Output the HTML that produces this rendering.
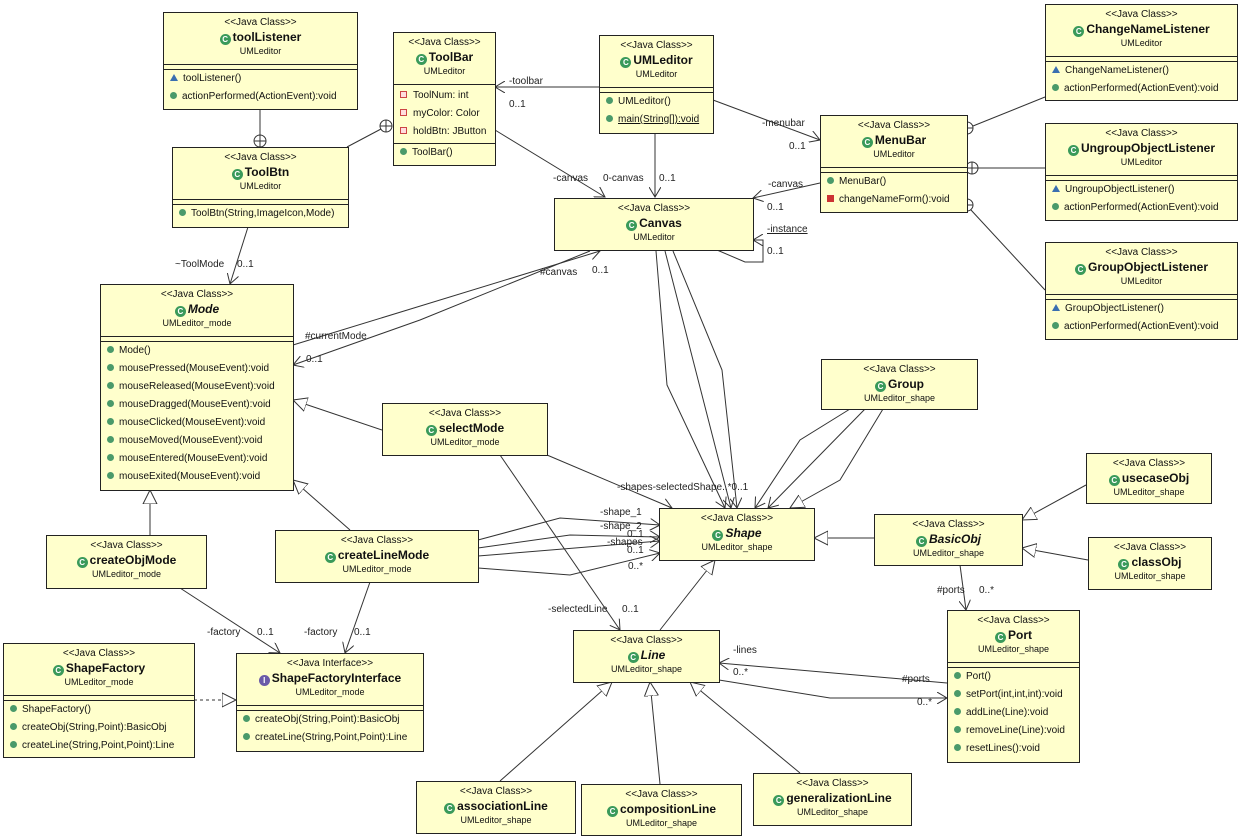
<!DOCTYPE html>
<html><head><meta charset="utf-8"><style>
body{margin:0;width:1242px;height:839px;background:#fff;position:relative;overflow:hidden;font-family:"Liberation Sans",sans-serif;}
.b{position:absolute;background:#ffffcc;border:1px solid #222;box-sizing:border-box;color:#111;}
.h{height:51px;text-align:center;border-bottom:1px solid #222;}
.st{font-size:10px;padding-top:4px;line-height:12px;}
.nm{font-size:12px;font-weight:bold;line-height:16px;}
.nm i{font-style:italic}
.pk{font-size:9px;line-height:13px;}
.g{display:inline-block;width:11px;height:11px;border-radius:50%;background:#3a9a5a;color:#fff;font-size:8px;line-height:11px;text-align:center;vertical-align:-1px;margin-right:2px;}
.sec{border-bottom:1px solid #222;height:4px;}
.sec2{border-bottom:1px solid #222;}
.r{font-size:10px;height:18px;line-height:18px;padding-left:6px;white-space:nowrap;}
.d{display:inline-block;width:7px;height:7px;border-radius:50%;background:#4a9a6a;margin-right:5px;vertical-align:0;}
.t{display:inline-block;width:0;height:0;border-left:4px solid transparent;border-right:4px solid transparent;border-bottom:7px solid #3a6fb0;margin-right:5px;}
.p{display:inline-block;width:5px;height:5px;border:1px solid #c44;background:#fdd;margin-right:6px;}
.sq{display:inline-block;width:7px;height:7px;background:#c33;margin-right:5px;}
.l{position:absolute;font-size:10px;color:#222;white-space:nowrap;}
svg{position:absolute;left:0;top:0;}
</style></head><body>
<svg width="1242" height="839" fill="none" stroke="#333" stroke-width="1">
<defs>
<marker id="a" markerWidth="12" markerHeight="12" refX="10" refY="6" orient="auto" markerUnits="userSpaceOnUse"><path d="M0,0 L10,6 L0,12" fill="none" stroke="#333"/></marker>
<marker id="tr" markerWidth="16" markerHeight="16" refX="14" refY="8" orient="auto" markerUnits="userSpaceOnUse"><path d="M0,1 L14,8 L0,15 Z" fill="#fff" stroke="#333"/></marker>
</defs>
<g>
<line x1="260" y1="110" x2="260" y2="135"/><circle cx="260" cy="141" r="6"/><path d="M254,141h12M260,135v12"/>
<line x1="347" y1="147" x2="381" y2="129"/><circle cx="386" cy="126" r="6"/><path d="M380,126h12M386,120v12"/>
<line x1="599" y1="87" x2="495" y2="87" marker-end="url(#a)"/>
<line x1="713" y1="100" x2="820" y2="140" marker-end="url(#a)"/>
<line x1="655" y1="133" x2="655" y2="197" marker-end="url(#a)"/>
<line x1="495" y1="130" x2="605" y2="197" marker-end="url(#a)"/>
<line x1="820" y1="183" x2="753" y2="198" marker-end="url(#a)"/>
<polyline points="717,250 745,262 763,262 763,240 753,240" marker-end="url(#a)"/>
<line x1="1045" y1="97" x2="973" y2="126"/><circle cx="967" cy="128" r="6"/><path d="M961,128h12M967,122v12"/>
<line x1="1045" y1="168" x2="978" y2="168"/><circle cx="972" cy="168" r="6"/><path d="M966,168h12M972,162v12"/>
<line x1="1045" y1="290" x2="971" y2="210"/><circle cx="967" cy="205" r="6"/><path d="M961,205h12M967,199v12"/>
<line x1="248" y1="227" x2="230" y2="284" marker-end="url(#a)"/>
<line x1="293" y1="345" x2="600" y2="251" marker-end="url(#a)"/>
<polyline points="590,251 420,320 293,365" marker-end="url(#a)"/>
<polyline points="656,251 667,385 725,508" marker-end="url(#a)"/>
<line x1="665" y1="251" x2="731" y2="508" marker-end="url(#a)"/>
<polyline points="673,251 722,370 737,508" marker-end="url(#a)"/>
<polyline points="850,409 800,440 755,508" marker-end="url(#a)"/>
<line x1="865" y1="409" x2="768" y2="508" marker-end="url(#a)"/>
<polyline points="883,409 840,480 790,508" marker-end="url(#tr)"/>
<line x1="382" y1="430" x2="293" y2="400" marker-end="url(#tr)"/>
<line x1="547" y1="455" x2="672" y2="508" marker-end="url(#a)"/>
<line x1="500" y1="455" x2="620" y2="630" marker-end="url(#a)"/>
<line x1="150" y1="535" x2="150" y2="490" marker-end="url(#tr)"/>
<line x1="350" y1="530" x2="293" y2="480" marker-end="url(#tr)"/>
<polyline points="478,540 560,518 660,525" marker-end="url(#a)"/>
<polyline points="478,548 570,535 660,537" marker-end="url(#a)"/>
<line x1="478" y1="556" x2="660" y2="541" marker-end="url(#a)"/>
<polyline points="478,568 570,575 660,553" marker-end="url(#a)"/>
<line x1="180" y1="588" x2="280" y2="653" marker-end="url(#a)"/>
<line x1="370" y1="582" x2="345" y2="653" marker-end="url(#a)"/>
<line x1="194" y1="700" x2="236" y2="700" stroke-dasharray="3,3" marker-end="url(#tr)"/>
<line x1="874" y1="538" x2="814" y2="538" marker-end="url(#tr)"/>
<line x1="1086" y1="485" x2="1022" y2="520" marker-end="url(#tr)"/>
<line x1="1088" y1="560" x2="1022" y2="548" marker-end="url(#tr)"/>
<line x1="960" y1="565" x2="966" y2="610" marker-end="url(#a)"/>
<line x1="660" y1="630" x2="715" y2="560" marker-end="url(#tr)"/>
<line x1="947" y1="683" x2="719" y2="663" marker-end="url(#a)"/>
<polyline points="719,680 830,698 947,698" marker-end="url(#a)"/>
<line x1="500" y1="781" x2="612" y2="682" marker-end="url(#tr)"/>
<line x1="660" y1="784" x2="650" y2="682" marker-end="url(#tr)"/>
<line x1="800" y1="773" x2="690" y2="682" marker-end="url(#tr)"/>
</g></svg>

<div class="b" style="left:163px;top:12px;width:195px;height:98px"><div class="h"><div class="st">&lt;&lt;Java Class&gt;&gt;</div><div class="nm"><span class="g">C</span>toolListener</div><div class="pk">UMLeditor</div></div><div class="sec"></div><div class="r"><span class="t"></span>toolListener()</div><div class="r"><span class="d"></span>actionPerformed(ActionEvent):void</div></div>

<div class="b" style="left:393px;top:32px;width:103px;height:134px"><div class="h"><div class="st">&lt;&lt;Java Class&gt;&gt;</div><div class="nm"><span class="g">C</span>ToolBar</div><div class="pk">UMLeditor</div></div><div class="sec2" style="padding:2px 0"><div class="r"><span class="p"></span>ToolNum: int</div><div class="r"><span class="p"></span>myColor: Color</div><div class="r"><span class="p"></span>holdBtn: JButton</div></div><div class="r"><span class="d"></span>ToolBar()</div></div>

<div class="b" style="left:599px;top:35px;width:115px;height:99px"><div class="h"><div class="st">&lt;&lt;Java Class&gt;&gt;</div><div class="nm"><span class="g">C</span>UMLeditor</div><div class="pk">UMLeditor</div></div><div class="sec"></div><div class="r"><span class="d"></span>UMLeditor()</div><div class="r"><span class="d"></span><u>main(String[]):void</u></div></div>

<div class="b" style="left:1045px;top:4px;width:193px;height:97px"><div class="h"><div class="st">&lt;&lt;Java Class&gt;&gt;</div><div class="nm"><span class="g">C</span>ChangeNameListener</div><div class="pk">UMLeditor</div></div><div class="sec"></div><div class="r"><span class="t"></span>ChangeNameListener()</div><div class="r"><span class="d"></span>actionPerformed(ActionEvent):void</div></div>

<div class="b" style="left:820px;top:115px;width:148px;height:98px"><div class="h"><div class="st">&lt;&lt;Java Class&gt;&gt;</div><div class="nm"><span class="g">C</span>MenuBar</div><div class="pk">UMLeditor</div></div><div class="sec"></div><div class="r"><span class="d"></span>MenuBar()</div><div class="r"><span class="sq"></span>changeNameForm():void</div></div>

<div class="b" style="left:1045px;top:123px;width:193px;height:98px"><div class="h"><div class="st">&lt;&lt;Java Class&gt;&gt;</div><div class="nm"><span class="g">C</span>UngroupObjectListener</div><div class="pk">UMLeditor</div></div><div class="sec"></div><div class="r"><span class="t"></span>UngroupObjectListener()</div><div class="r"><span class="d"></span>actionPerformed(ActionEvent):void</div></div>

<div class="b" style="left:1045px;top:242px;width:193px;height:98px"><div class="h"><div class="st">&lt;&lt;Java Class&gt;&gt;</div><div class="nm"><span class="g">C</span>GroupObjectListener</div><div class="pk">UMLeditor</div></div><div class="sec"></div><div class="r"><span class="t"></span>GroupObjectListener()</div><div class="r"><span class="d"></span>actionPerformed(ActionEvent):void</div></div>

<div class="b" style="left:172px;top:147px;width:177px;height:81px"><div class="h"><div class="st">&lt;&lt;Java Class&gt;&gt;</div><div class="nm"><span class="g">C</span>ToolBtn</div><div class="pk">UMLeditor</div></div><div class="sec"></div><div class="r"><span class="d"></span>ToolBtn(String,ImageIcon,Mode)</div></div>

<div class="b" style="left:554px;top:198px;width:200px;height:53px"><div class="st" style="text-align:center">&lt;&lt;Java Class&gt;&gt;</div><div class="nm" style="text-align:center"><span class="g">C</span>Canvas</div><div class="pk" style="text-align:center">UMLeditor</div></div>

<div class="b" style="left:100px;top:284px;width:194px;height:207px"><div class="h"><div class="st">&lt;&lt;Java Class&gt;&gt;</div><div class="nm"><span class="g">C</span><i>Mode</i></div><div class="pk">UMLeditor_mode</div></div><div class="sec"></div><div class="r"><span class="d"></span>Mode()</div><div class="r"><span class="d"></span>mousePressed(MouseEvent):void</div><div class="r"><span class="d"></span>mouseReleased(MouseEvent):void</div><div class="r"><span class="d"></span>mouseDragged(MouseEvent):void</div><div class="r"><span class="d"></span>mouseClicked(MouseEvent):void</div><div class="r"><span class="d"></span>mouseMoved(MouseEvent):void</div><div class="r"><span class="d"></span>mouseEntered(MouseEvent):void</div><div class="r"><span class="d"></span>mouseExited(MouseEvent):void</div></div>

<div class="b" style="left:821px;top:359px;width:157px;height:51px"><div class="st" style="text-align:center">&lt;&lt;Java Class&gt;&gt;</div><div class="nm" style="text-align:center"><span class="g">C</span>Group</div><div class="pk" style="text-align:center">UMLeditor_shape</div></div>
<div class="b" style="left:382px;top:403px;width:166px;height:53px"><div class="st" style="text-align:center">&lt;&lt;Java Class&gt;&gt;</div><div class="nm" style="text-align:center"><span class="g">C</span>selectMode</div><div class="pk" style="text-align:center">UMLeditor_mode</div></div>
<div class="b" style="left:1086px;top:453px;width:126px;height:51px"><div class="st" style="text-align:center">&lt;&lt;Java Class&gt;&gt;</div><div class="nm" style="text-align:center"><span class="g">C</span>usecaseObj</div><div class="pk" style="text-align:center">UMLeditor_shape</div></div>
<div class="b" style="left:874px;top:514px;width:149px;height:52px"><div class="st" style="text-align:center">&lt;&lt;Java Class&gt;&gt;</div><div class="nm" style="text-align:center"><span class="g">C</span><i>BasicObj</i></div><div class="pk" style="text-align:center">UMLeditor_shape</div></div>
<div class="b" style="left:1088px;top:537px;width:124px;height:53px"><div class="st" style="text-align:center">&lt;&lt;Java Class&gt;&gt;</div><div class="nm" style="text-align:center"><span class="g">C</span>classObj</div><div class="pk" style="text-align:center">UMLeditor_shape</div></div>
<div class="b" style="left:659px;top:508px;width:156px;height:53px"><div class="st" style="text-align:center">&lt;&lt;Java Class&gt;&gt;</div><div class="nm" style="text-align:center"><span class="g">C</span><i>Shape</i></div><div class="pk" style="text-align:center">UMLeditor_shape</div></div>
<div class="b" style="left:46px;top:535px;width:161px;height:54px"><div class="st" style="text-align:center">&lt;&lt;Java Class&gt;&gt;</div><div class="nm" style="text-align:center"><span class="g">C</span>createObjMode</div><div class="pk" style="text-align:center">UMLeditor_mode</div></div>
<div class="b" style="left:275px;top:530px;width:204px;height:53px"><div class="st" style="text-align:center">&lt;&lt;Java Class&gt;&gt;</div><div class="nm" style="text-align:center"><span class="g">C</span>createLineMode</div><div class="pk" style="text-align:center">UMLeditor_mode</div></div>

<div class="b" style="left:3px;top:643px;width:192px;height:115px"><div class="h"><div class="st">&lt;&lt;Java Class&gt;&gt;</div><div class="nm"><span class="g">C</span>ShapeFactory</div><div class="pk">UMLeditor_mode</div></div><div class="sec"></div><div class="r"><span class="d"></span>ShapeFactory()</div><div class="r"><span class="d"></span>createObj(String,Point):BasicObj</div><div class="r"><span class="d"></span>createLine(String,Point,Point):Line</div></div>

<div class="b" style="left:236px;top:653px;width:188px;height:99px"><div class="h"><div class="st">&lt;&lt;Java Interface&gt;&gt;</div><div class="nm"><span class="g" style="background:#6a5aa8">I</span>ShapeFactoryInterface</div><div class="pk">UMLeditor_mode</div></div><div class="sec"></div><div class="r"><span class="d"></span>createObj(String,Point):BasicObj</div><div class="r"><span class="d"></span>createLine(String,Point,Point):Line</div></div>

<div class="b" style="left:573px;top:630px;width:147px;height:53px"><div class="st" style="text-align:center">&lt;&lt;Java Class&gt;&gt;</div><div class="nm" style="text-align:center"><span class="g">C</span><i>Line</i></div><div class="pk" style="text-align:center">UMLeditor_shape</div></div>

<div class="b" style="left:947px;top:610px;width:133px;height:153px"><div class="h"><div class="st">&lt;&lt;Java Class&gt;&gt;</div><div class="nm"><span class="g">C</span>Port</div><div class="pk">UMLeditor_shape</div></div><div class="sec"></div><div class="r"><span class="d"></span>Port()</div><div class="r"><span class="d"></span>setPort(int,int,int):void</div><div class="r"><span class="d"></span>addLine(Line):void</div><div class="r"><span class="d"></span>removeLine(Line):void</div><div class="r"><span class="d"></span>resetLines():void</div></div>

<div class="b" style="left:416px;top:781px;width:160px;height:53px"><div class="st" style="text-align:center">&lt;&lt;Java Class&gt;&gt;</div><div class="nm" style="text-align:center"><span class="g">C</span>associationLine</div><div class="pk" style="text-align:center">UMLeditor_shape</div></div>
<div class="b" style="left:581px;top:784px;width:161px;height:52px"><div class="st" style="text-align:center">&lt;&lt;Java Class&gt;&gt;</div><div class="nm" style="text-align:center"><span class="g">C</span>compositionLine</div><div class="pk" style="text-align:center">UMLeditor_shape</div></div>
<div class="b" style="left:753px;top:773px;width:159px;height:53px"><div class="st" style="text-align:center">&lt;&lt;Java Class&gt;&gt;</div><div class="nm" style="text-align:center"><span class="g">C</span>generalizationLine</div><div class="pk" style="text-align:center">UMLeditor_shape</div></div>

<div class="l" style="left:509px;top:76px">-toolbar</div>
<div class="l" style="left:509px;top:99px">0..1</div>
<div class="l" style="left:762px;top:118px">-menubar</div>
<div class="l" style="left:789px;top:141px">0..1</div>
<div class="l" style="left:553px;top:173px">-canvas</div>
<div class="l" style="left:603px;top:173px">0-canvas</div>
<div class="l" style="left:659px;top:173px">0..1</div>
<div class="l" style="left:768px;top:179px">-canvas</div>
<div class="l" style="left:767px;top:202px">0..1</div>
<div class="l" style="left:767px;top:224px;text-decoration:underline">-instance</div>
<div class="l" style="left:767px;top:246px">0..1</div>
<div class="l" style="left:175px;top:259px">~ToolMode</div>
<div class="l" style="left:237px;top:259px">0..1</div>
<div class="l" style="left:540px;top:267px">#canvas</div>
<div class="l" style="left:592px;top:265px">0..1</div>
<div class="l" style="left:305px;top:331px">#currentMode</div>
<div class="l" style="left:306px;top:354px">0..1</div>
<div class="l" style="left:617px;top:482px">-shapes-selectedShape..*0..1</div>
<div class="l" style="left:600px;top:507px">-shape_1</div>
<div class="l" style="left:600px;top:521px">-shape_2</div>
<div class="l" style="left:627px;top:529px">0..1</div>
<div class="l" style="left:607px;top:537px">-shapes</div>
<div class="l" style="left:627px;top:545px">0..1</div>
<div class="l" style="left:628px;top:561px">0..*</div>
<div class="l" style="left:207px;top:627px">-factory</div>
<div class="l" style="left:257px;top:627px">0..1</div>
<div class="l" style="left:304px;top:627px">-factory</div>
<div class="l" style="left:354px;top:627px">0..1</div>
<div class="l" style="left:548px;top:604px">-selectedLine</div>
<div class="l" style="left:622px;top:604px">0..1</div>
<div class="l" style="left:937px;top:585px">#ports</div>
<div class="l" style="left:979px;top:585px">0..*</div>
<div class="l" style="left:733px;top:645px">-lines</div>
<div class="l" style="left:733px;top:667px">0..*</div>
<div class="l" style="left:902px;top:674px">#ports</div>
<div class="l" style="left:917px;top:697px">0..*</div>
</body></html>
